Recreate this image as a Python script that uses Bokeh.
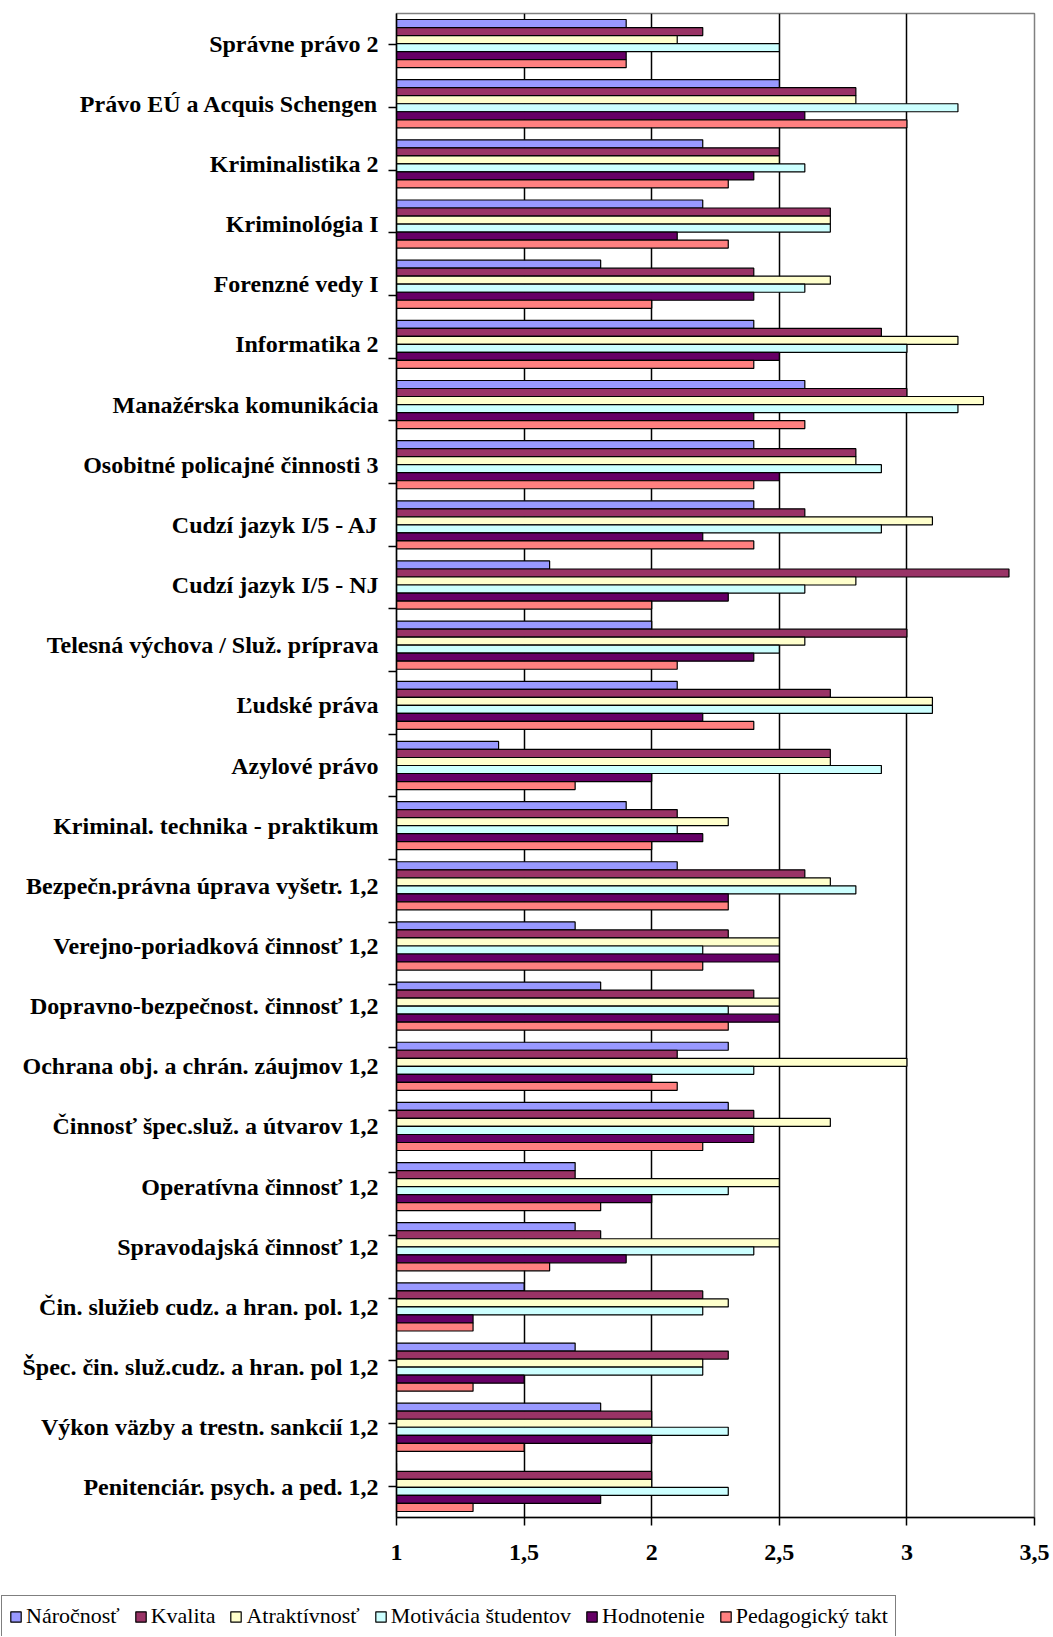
from bokeh.plotting import figure
from bokeh.models import (FactorRange, Range1d, LinearAxis, CategoricalAxis, FixedTicker,
                          CustomJSTickFormatter, Legend, LegendItem, ColumnDataSource, Grid)
from bokeh.transform import dodge
from bokeh.embed import file_html
from bokeh.resources import INLINE

categories = [
    "Správne právo 2",
    "Právo EÚ a Acquis Schengen",
    "Kriminalistika 2",
    "Kriminológia I",
    "Forenzné vedy I",
    "Informatika 2",
    "Manažérska komunikácia",
    "Osobitné policajné činnosti 3",
    "Cudzí jazyk I/5 - AJ",
    "Cudzí jazyk I/5 - NJ",
    "Telesná výchova / Služ. príprava",
    "Ľudské práva",
    "Azylové právo",
    "Kriminal. technika - praktikum",
    "Bezpečn.právna úprava vyšetr. 1,2",
    "Verejno-poriadková činnosť 1,2",
    "Dopravno-bezpečnost. činnosť 1,2",
    "Ochrana obj. a chrán. záujmov 1,2",
    "Činnosť špec.služ. a útvarov 1,2",
    "Operatívna činnosť 1,2",
    "Spravodajská činnosť 1,2",
    "Čin. služieb cudz. a hran. pol. 1,2",
    "Špec. čin. služ.cudz. a hran. pol 1,2",
    "Výkon väzby a trestn. sankcií 1,2",
    "Penitenciár. psych. a ped. 1,2",
]

series_names = ["Náročnosť", "Kvalita", "Atraktívnosť", "Motivácia študentov",
                "Hodnotenie", "Pedagogický takt"]

narocnost = [1.9, 2.5, 2.2, 2.2, 1.8, 2.4, 2.6, 2.4, 2.4, 1.6, 2.0, 2.1, 1.4, 1.9, 2.1,
             1.7, 1.8, 2.3, 2.3, 1.7, 1.7, 1.5, 1.7, 1.8, 1.0]
kvalita = [2.2, 2.8, 2.5, 2.7, 2.4, 2.9, 3.0, 2.8, 2.6, 3.4, 3.0, 2.7, 2.7, 2.1, 2.6,
           2.3, 2.4, 2.1, 2.4, 1.7, 1.8, 2.2, 2.3, 2.0, 2.0]
atraktivnost = [2.1, 2.8, 2.5, 2.7, 2.7, 3.2, 3.3, 2.8, 3.1, 2.8, 2.6, 3.1, 2.7, 2.3, 2.7,
                2.5, 2.5, 3.0, 2.7, 2.5, 2.5, 2.3, 2.2, 2.0, 2.0]
motivacia = [2.5, 3.2, 2.6, 2.7, 2.6, 3.0, 3.2, 2.9, 2.9, 2.6, 2.5, 3.1, 2.9, 2.1, 2.8,
             2.2, 2.3, 2.4, 2.4, 2.3, 2.4, 2.2, 2.2, 2.3, 2.3]
hodnotenie = [1.9, 2.6, 2.4, 2.1, 2.4, 2.5, 2.4, 2.5, 2.2, 2.3, 2.4, 2.2, 2.0, 2.2, 2.3,
              2.5, 2.5, 2.0, 2.4, 2.0, 1.9, 1.3, 1.5, 2.0, 1.8]
pedagogicky = [1.9, 3.0, 2.3, 2.3, 2.0, 2.4, 2.6, 2.4, 2.4, 2.0, 2.1, 2.4, 1.7, 2.0, 2.3,
               2.2, 2.3, 2.1, 2.2, 1.8, 1.6, 1.3, 1.3, 1.5, 1.3]

x_ticks = [1, 1.5, 2, 2.5, 3, 3.5]
grid_ticks = [1.5, 2, 2.5, 3]

series_values = [narocnost, kvalita, atraktivnost, motivacia, hodnotenie, pedagogicky]
colors = ["#9999FF", "#993366", "#FFFFCC", "#CCFFFF", "#660066", "#FF8080"]

FONT = "Liberation Serif"

p = figure(
    y_range=FactorRange(factors=list(reversed(categories)), range_padding=0),
    x_range=Range1d(1, 3.5),
    frame_width=638, frame_height=1504,
    min_border_left=396, min_border_right=19, min_border_top=13, min_border_bottom=77,
    output_backend="svg", toolbar_location=None,
    x_axis_location=None, y_axis_location=None,
    background_fill_color="white", border_fill_color="white",
)
p.outline_line_color = "#808080"
p.outline_line_width = 1.5
for g in list(p.grid):
    g.visible = False

grid = Grid(dimension=0, ticker=FixedTicker(ticks=grid_ticks),
            grid_line_color="black", grid_line_width=1.5)
p.add_layout(grid, "center")

n = len(series_names)
bar_h = 0.8 / n
for i, (name, vals, col) in enumerate(zip(series_names, series_values, colors)):
    src = ColumnDataSource(dict(cat=categories, val=vals))
    off = (n / 2 - 0.5 - i) * bar_h
    p.hbar(y=dodge("cat", off, range=p.y_range), left=1, right="val", height=bar_h,
           source=src, fill_color=col, line_color="black", line_width=1.2)

# x axis
xa = LinearAxis(ticker=FixedTicker(ticks=x_ticks),
                formatter=CustomJSTickFormatter(code="return tick.toString().replace('.', ',')"),
                major_tick_out=8, major_tick_in=0, minor_tick_out=0, minor_tick_in=0,
                axis_line_color="black", axis_line_width=1.5,
                major_tick_line_color="black", major_tick_line_width=1.5,
                major_label_standoff=19,
                major_label_text_font=FONT, major_label_text_font_style="bold",
                major_label_text_font_size="24px", major_label_text_color="black")
p.add_layout(xa, "below")

# y axis: tick marks at category boundaries (categorical range shifted by half a band)
bounds = [f"b{i}" for i in range(len(categories) + 1)]
p.extra_y_ranges = {"ticks": FactorRange(factors=bounds, range_padding=-1,
                                         range_padding_units="absolute")}
yt = CategoricalAxis(y_range_name="ticks",
                     major_label_overrides={b: "" for b in bounds},
                     major_label_text_font_size="1px", major_label_text_color=None,
                     major_tick_out=8, major_tick_in=0,
                     axis_line_color="black", axis_line_width=1.5,
                     major_tick_line_color="black", major_tick_line_width=1.5,
                     major_label_standoff=0)
p.add_layout(yt, "left")

# y axis: category labels
yc = CategoricalAxis(major_tick_out=0, major_tick_in=0, axis_line_color=None,
                     major_tick_line_color=None, major_label_standoff=10,
                     major_label_text_font=FONT, major_label_text_font_style="bold",
                     major_label_text_font_size="24px", major_label_text_color="black")
p.add_layout(yc, "left")

# legend strip below the chart (separate root, not frame-aligned)
lf = figure(width=1053, height=42, x_range=Range1d(0, 1), y_range=Range1d(0, 1),
            min_border_left=0, min_border_right=0, min_border_top=0, min_border_bottom=0,
            output_backend="svg", toolbar_location=None,
            x_axis_location=None, y_axis_location=None,
            background_fill_color="white", border_fill_color="white")
lf.outline_line_color = None
for g in list(lf.grid):
    g.visible = False

items = []
for name, col in zip(series_names, colors):
    # one swatch per series, kept outside the strip's visible range
    swatch = ColumnDataSource(dict(y=[-5], left=[0], right=[0.5]))
    r = lf.hbar(y="y", left="left", right="right", height=0.1, source=swatch,
                fill_color=col, line_color="black", line_width=1.2)
    items.append(LegendItem(label=name, renderers=[r]))

legend = Legend(items=items, orientation="horizontal", location="top_left",
                label_text_font=FONT, label_text_font_size="22px", label_text_color="black",
                glyph_width=13, glyph_height=13, label_standoff=4, spacing=14,
                padding=7, margin=1,
                border_line_color="black", border_line_width=1.2,
                background_fill_color="white", background_fill_alpha=1.0)
lf.add_layout(legend, "center")

open("out.html", "w").write(file_html([p, lf], INLINE))
